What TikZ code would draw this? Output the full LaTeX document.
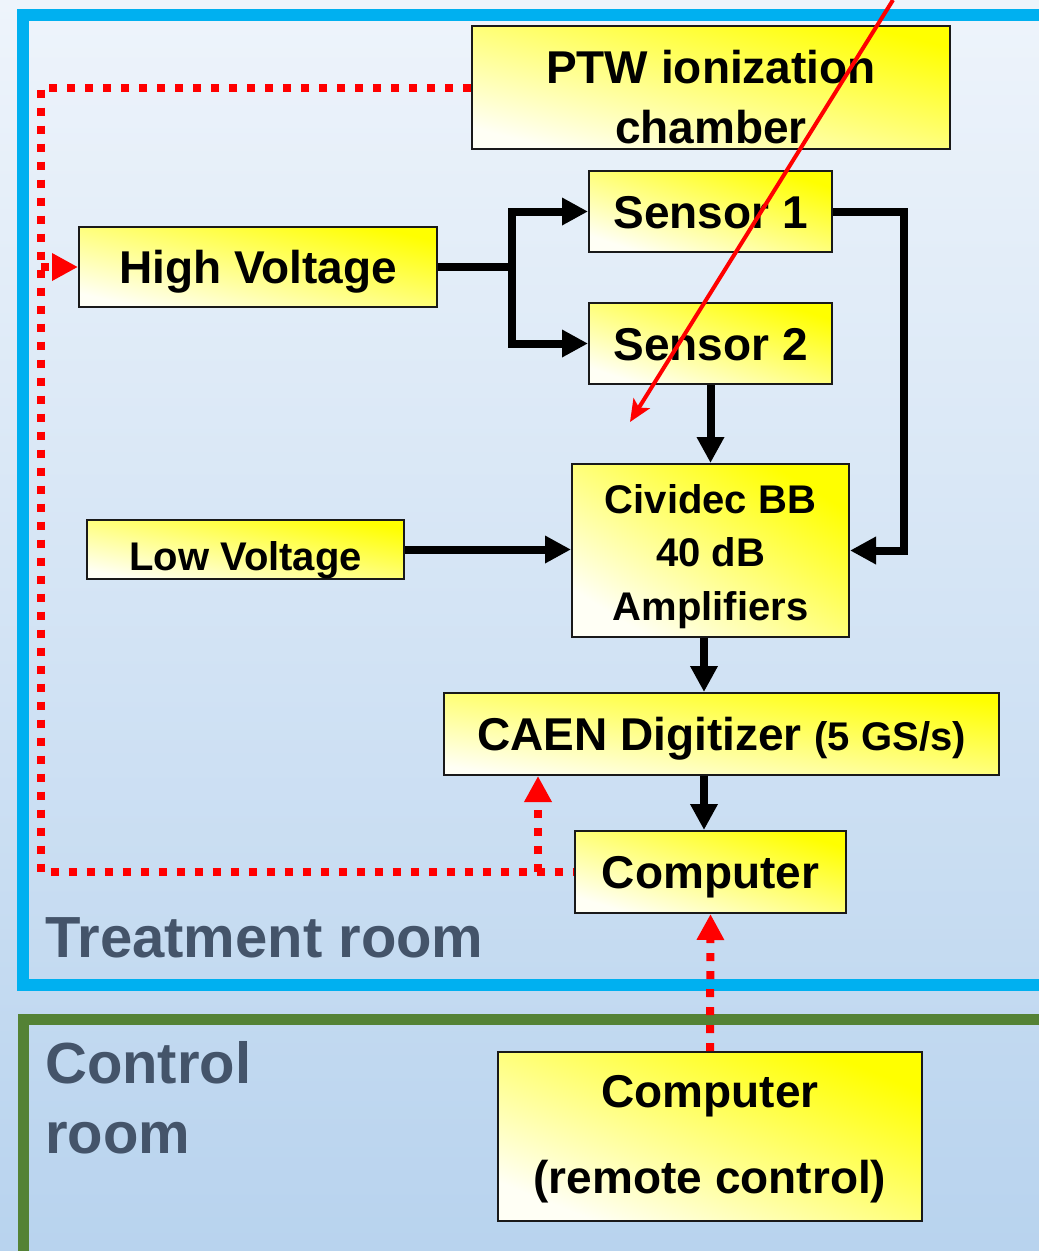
\documentclass[tikz,border=0pt]{standalone}
\usepackage{fontspec}
\setmainfont{Liberation Sans}
\usetikzlibrary{arrows.meta,calc}

\definecolor{roomblue}{HTML}{00B0F0}
\definecolor{roomgreen}{HTML}{548235}
\definecolor{roomtext}{HTML}{44546A}
\definecolor{bgtop}{HTML}{EEF4FB}
\definecolor{bgbot}{HTML}{B8D3EE}

\begin{document}
\begin{tikzpicture}[x=1pt, y=-1pt, >={Triangle[length=26pt,width=26pt]},
  box/.style={draw=black!90, line width=2pt, inner sep=0pt, align=center,
    top color=yellow, bottom color=yellow!4!white, shading angle=#1,
    font=\bfseries\fontsize{46}{60}\selectfont, text height=33pt, text depth=0pt},
  box/.default=-15,
  small/.style={font=\bfseries\fontsize{40}{53.5}\selectfont, text height=29pt},
  wire/.style={line width=8pt, ->},
  ctrl/.style={red, line width=8pt, dash pattern=on 8pt off 10pt},
  room/.style={roomtext, anchor=base west, align=left, inner sep=0pt,
    font=\bfseries\fontsize{58}{70}\selectfont}]
  \useasboundingbox (0,0) rectangle (1039,1251);
  \clip (0,0) rectangle (1039,1251);

  % Background and the two rooms
  \fill[top color=bgtop, bottom color=bgbot] (0,0) rectangle (1039,1251);
  \draw[roomblue, line width=12pt] (23,15) rectangle (1070,985);
  \draw[roomgreen, line width=11pt] (23,1019) rectangle (1070,1280);
  \node[room] (treat) at (45,957) {Treatment room};
  \node[room] (control) at (45,1153) {Control\\room};

  % Boxes
  \node[box=-14, minimum width=478pt, minimum height=123pt, text height=111pt] (ptw) at (711,87.5) {PTW ionization\\chamber};
  \node[box=-13, minimum width=358pt, minimum height=80pt] (hv) at (258,267) {High Voltage};
  \node[box=-18, minimum width=243pt, minimum height=81pt] (s1) at (710.5,211.5) {Sensor 1};
  \node[box=-18, minimum width=243pt, minimum height=81pt] (s2) at (710.5,343.5) {Sensor 2};
  \node[box=-11, small, minimum width=317pt, minimum height=59pt, text height=41pt] (lv) at (245.5,549.5) {Low Voltage};
  \node[box=-32, small, minimum width=277pt, minimum height=173pt, text height=139pt] (civ) at (710.5,550.5) {Cividec BB\\40 dB\\Amplifiers};
  \node[box=-8, minimum width=555pt, minimum height=82pt] (caen) at (721.5,734) {CAEN Digitizer {\fontsize{40}{48}\selectfont(5 GS/s)}};
  \node[box=-17, minimum width=271pt, minimum height=82pt] (comp) at (710.5,872) {Computer};
  \node[box=-22, minimum width=424pt, minimum height=169pt, font=\bfseries\fontsize{46}{86}\selectfont, text height=119pt, text depth=6pt] (remote) at (710,1136.5) {Computer\\(remote control)};

  % Signal wires
  \coordinate (split) at (512,267);
  \coordinate (bus) at (704,0);
  \draw[wire, -] (hv.east) -- (split);
  \draw[wire] (split) |- (s1.west);
  \draw[wire] (split) |- (s2.west);
  \draw[wire] (s1.east) -- ++(71,0) |- (civ.east);
  \draw[wire] (s2.south) -- (civ.north);
  \draw[wire] (lv.east) -- (lv.east -| civ.west);
  \draw[wire] (civ.south -| bus) -- (caen.north -| bus);
  \draw[wire] (caen.south -| bus) -- (comp.north -| bus);

  % Control lines
  \coordinate (loop) at (41,872);
  \coordinate (tap) at (538,872);
  \draw[ctrl] (ptw.west) -| (loop) -- (comp.west);
  \draw[ctrl, ->] (loop |- hv.west) -- (hv.west);
  \draw[ctrl, ->] (tap) -- (tap |- caen.south);
  \draw[ctrl, ->] (remote.north) -- (comp.south);

  % Beam
  \coordinate (beamin) at (893,0);
  \coordinate (beamout) at (630,422);
  \draw[red, line width=4pt, -{Stealth[length=22pt,width=19pt,inset=5pt]}] (beamin) -- (beamout);
\end{tikzpicture}
\end{document}
